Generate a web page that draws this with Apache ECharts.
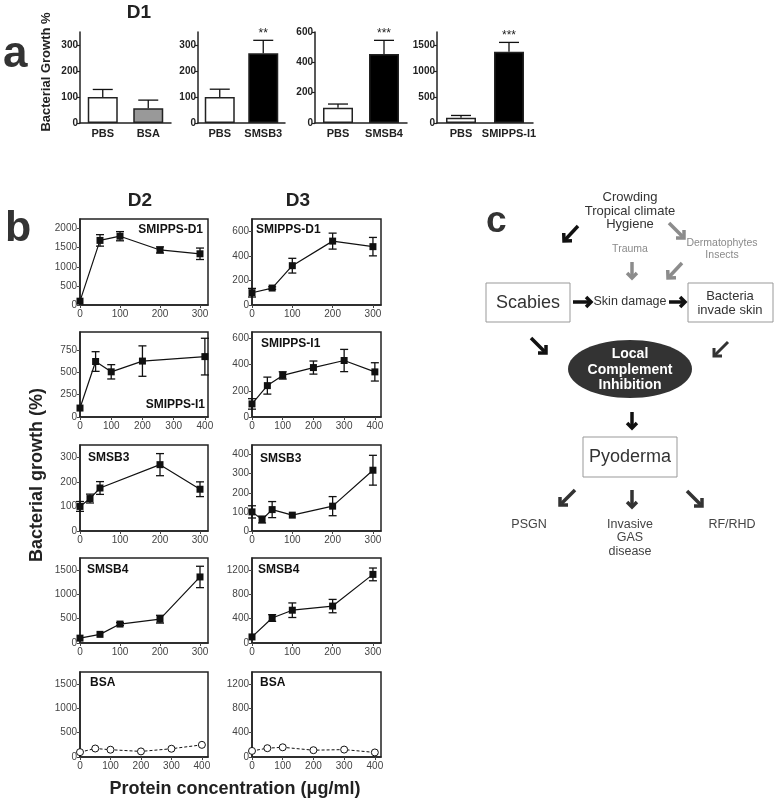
<!DOCTYPE html>
<html><head><meta charset="utf-8">
<script src="https://cdn.jsdelivr.net/npm/echarts@6/dist/echarts.min.js"></script>
<style>html,body{margin:0;padding:0;background:#fff}#c{width:780px;height:804px}</style>
</head><body><div id="c"></div>
<script>
// ---------------- DATA: panel a (D1 bar charts) ----------------
const a1Cats = ['PBS', 'BSA'];       const a1Vals = [100, 57];   const a1Err = [29, 31];   const a1Sig = ['', ''];
const a2Cats = ['PBS', 'SMSB3'];     const a2Vals = [100, 268];  const a2Err = [30, 50];   const a2Sig = ['', '**'];
const a3Cats = ['PBS', 'SMSB4'];     const a3Vals = [100, 455];  const a3Err = [25, 90];   const a3Sig = ['', '***'];
const a4Cats = ['PBS', 'SMIPPS-I1']; const a4Vals = [100, 1370]; const a4Err = [45, 180];  const a4Sig = ['', '***'];
const a1Ticks = [0, 100, 200, 300];
const a2Ticks = [0, 100, 200, 300];
const a3Ticks = [0, 200, 400, 600];
const a4Ticks = [0, 500, 1000, 1500];

// ---------------- DATA: panel b (dose response) ----------------
const xD2SmippsD1 = [0, 50, 100, 200, 300];
const yD2SmippsD1 = [100, 1690, 1800, 1440, 1340];
const eD2SmippsD1 = [0, 150, 120, 80, 150];
const xD3SmippsD1 = [0, 50, 100, 200, 300];
const yD3SmippsD1 = [100, 138, 320, 520, 475];
const eD3SmippsD1 = [35, 10, 60, 65, 75];

const xD2SmippsI1 = [0, 50, 100, 200, 400];
const yD2SmippsI1 = [100, 620, 505, 625, 675];
const eD2SmippsI1 = [0, 110, 80, 170, 205];
const xD3SmippsI1 = [0, 50, 100, 200, 300, 400];
const yD3SmippsI1 = [100, 240, 318, 378, 432, 345];
const eD3SmippsI1 = [40, 65, 28, 50, 85, 70];

const xD2Smsb3 = [0, 25, 50, 200, 300];
const yD2Smsb3 = [100, 132, 175, 270, 170];
const eD2Smsb3 = [20, 18, 26, 45, 30];
const xD3Smsb3 = [0, 25, 50, 100, 200, 300];
const yD3Smsb3 = [100, 60, 112, 83, 130, 318];
const eD3Smsb3 = [32, 18, 42, 0, 50, 78];

const xD2Smsb4 = [0, 50, 100, 200, 300];
const yD2Smsb4 = [100, 178, 390, 490, 1360];
const eD2Smsb4 = [0, 0, 30, 80, 220];
const xD3Smsb4 = [0, 50, 100, 200, 300];
const yD3Smsb4 = [100, 412, 540, 608, 1130];
const eD3Smsb4 = [0, 55, 120, 110, 105];

const xD2Bsa = [0, 50, 100, 200, 300, 400];
const yD2Bsa = [100, 175, 150, 115, 170, 250];
const xD3Bsa = [0, 50, 100, 200, 300, 400];
const yD3Bsa = [100, 145, 160, 112, 122, 75];

const bNames = ['SMIPPS-D1', 'SMIPPS-D1', 'SMIPPS-I1', 'SMIPPS-I1', 'SMSB3', 'SMSB3', 'SMSB4', 'SMSB4', 'BSA', 'BSA'];
const bYTicks = [[0,500,1000,1500,2000],[0,200,400,600],[0,250,500,750],[0,200,400,600],[0,100,200,300],[0,100,200,300,400],[0,500,1000,1500],[0,400,800,1200],[0,500,1000,1500],[0,400,800,1200]];
const bXTicks = [[0,100,200,300],[0,100,200,300],[0,100,200,300,400],[0,100,200,300,400],[0,100,200,300],[0,100,200,300],[0,100,200,300],[0,100,200,300],[0,100,200,300,400],[0,100,200,300,400]];

// ---------------- helpers ----------------
const FONT = '"Liberation Sans", Arial, sans-serif';
const DARK = '#222';
const plain = v => String(v);

function errRender(capW, upperOnly, sig) {
  return function (params, api) {
    const x = api.value(0), y = api.value(1), e = api.value(2);
    const children = [];
    const c = api.coord([x, y]);
    if (e > 0) {
      const top = api.coord([x, y + e]);
      const bot = upperOnly ? c : api.coord([x, y - e]);
      const st = { stroke: '#111', lineWidth: 1.3 };
      children.push({ type: 'line', shape: { x1: c[0], y1: bot[1], x2: c[0], y2: top[1] }, style: st });
      children.push({ type: 'line', shape: { x1: c[0] - capW / 2, y1: top[1], x2: c[0] + capW / 2, y2: top[1] }, style: st });
      if (!upperOnly) children.push({ type: 'line', shape: { x1: c[0] - capW / 2, y1: bot[1], x2: c[0] + capW / 2, y2: bot[1] }, style: st });
      if (sig && sig[params.dataIndex]) {
        children.push({ type: 'text', style: { text: sig[params.dataIndex], x: c[0], y: top[1] - 1, align: 'center', verticalAlign: 'bottom', textAlign: 'center', textVerticalAlign: 'bottom', font: '12px ' + FONT, fill: '#222' } });
      }
    }
    return { type: 'group', children };
  };
}

const grids = [], xAxes = [], yAxes = [], series = [];

// panel a
const barPanels = [
  { cats: a1Cats, vals: a1Vals, err: a1Err, sig: a1Sig, ticks: a1Ticks, max: 350, fills: ['#fff', '#999'], g: { left: 80, top: 32, width: 91, height: 91 } },
  { cats: a2Cats, vals: a2Vals, err: a2Err, sig: a2Sig, ticks: a2Ticks, max: 350, fills: ['#fff', '#000'], g: { left: 198, top: 32, width: 87, height: 91 } },
  { cats: a3Cats, vals: a3Vals, err: a3Err, sig: a3Sig, ticks: a3Ticks, max: 600, fills: ['#fff', '#000'], g: { left: 315, top: 32, width: 92, height: 91 } },
  { cats: a4Cats, vals: a4Vals, err: a4Err, sig: a4Sig, ticks: a4Ticks, max: 1750, fills: ['#fff', '#000'], g: { left: 437, top: 32, width: 96, height: 91 } }
];
barPanels.forEach(p => {
  const i = grids.length;
  grids.push(Object.assign({ containLabel: false }, p.g));
  xAxes.push({ type: 'category', gridIndex: i, data: p.cats,
    axisTick: { show: false }, axisLine: { show: true, lineStyle: { color: DARK, width: 1.5 } },
    axisLabel: { interval: 0, fontWeight: 'bold', fontSize: 11, color: '#222', margin: 5, fontFamily: FONT } });
  yAxes.push({ type: 'value', gridIndex: i, min: 0, max: p.max, splitLine: { show: false },
    axisLine: { show: true, lineStyle: { color: DARK, width: 1.5 } },
    axisTick: { show: true, length: 3, customValues: p.ticks, lineStyle: { color: DARK, width: 1.2 } },
    axisLabel: { customValues: p.ticks, formatter: plain, fontWeight: 'bold', fontSize: 10, color: '#222', margin: 2, fontFamily: FONT } });
  series.push({ type: 'bar', xAxisIndex: i, yAxisIndex: i, barWidth: 30,
    data: p.vals.map((v, j) => ({ value: v, itemStyle: { color: p.fills[j] } })),
    itemStyle: { borderColor: DARK, borderWidth: 1.5 }, z: 2 });
  series.push({ type: 'custom', xAxisIndex: i, yAxisIndex: i, z: 3,
    data: p.vals.map((v, j) => [j, v, p.err[j]]), encode: { x: 0, y: 1 },
    renderItem: errRender(20, true, p.sig) });
});

// panel b
const lineSets = [
  { x: xD2SmippsD1, y: yD2SmippsD1, e: eD2SmippsD1 },
  { x: xD3SmippsD1, y: yD3SmippsD1, e: eD3SmippsD1 },
  { x: xD2SmippsI1, y: yD2SmippsI1, e: eD2SmippsI1 },
  { x: xD3SmippsI1, y: yD3SmippsI1, e: eD3SmippsI1 },
  { x: xD2Smsb3, y: yD2Smsb3, e: eD2Smsb3 },
  { x: xD3Smsb3, y: yD3Smsb3, e: eD3Smsb3 },
  { x: xD2Smsb4, y: yD2Smsb4, e: eD2Smsb4 },
  { x: xD3Smsb4, y: yD3Smsb4, e: eD3Smsb4 },
  { x: xD2Bsa, y: yD2Bsa, e: null, open: true },
  { x: xD3Bsa, y: yD3Bsa, e: null, open: true }
];
const colLeft = [80, 252], colWidth = [128, 129];
const rowTop = [219, 332, 445, 558, 672], rowH = [86, 85, 86, 85, 85];
const xMax = [320, 320, 410, 420, 320, 320, 320, 320, 420, 420];
const yMax = [2250, 700, 950, 650, 350, 450, 1750, 1400, 1750, 1400];

lineSets.forEach((s, k) => {
  const i = grids.length;
  const col = k % 2, row = Math.floor(k / 2);
  grids.push({ left: colLeft[col], top: rowTop[row], width: colWidth[col], height: rowH[row], show: true, borderColor: DARK, borderWidth: 1.5, backgroundColor: 'rgba(0,0,0,0)' });
  const axisCommon = {
    splitLine: { show: false },
    axisLine: { show: true, onZero: false, lineStyle: { color: DARK, width: 1.5 } },
    axisTick: { show: true, length: 3, lineStyle: { color: '#444', width: 1 } },
    axisLabel: { fontSize: 10, color: '#444', fontFamily: FONT, formatter: plain }
  };
  xAxes.push(echarts.util.merge({ type: 'value', gridIndex: i, min: 0, max: xMax[k],
    axisTick: { customValues: bXTicks[k] }, axisLabel: { customValues: bXTicks[k], margin: 4 } }, axisCommon));
  yAxes.push(echarts.util.merge({ type: 'value', gridIndex: i, min: 0, max: yMax[k],
    axisTick: { customValues: bYTicks[k] }, axisLabel: { customValues: bYTicks[k], margin: 3 } }, axisCommon));
  const pts = s.x.map((x, j) => [x, s.y[j]]);
  if (s.open) {
    series.push({ type: 'line', xAxisIndex: i, yAxisIndex: i, data: pts, symbol: 'circle', symbolSize: 7, showSymbol: true,
      itemStyle: { color: '#fff', borderColor: '#111', borderWidth: 1 }, lineStyle: { color: '#111', width: 1, type: [3, 2] }, z: 3 });
  } else {
    series.push({ type: 'custom', xAxisIndex: i, yAxisIndex: i, z: 2,
      data: s.x.map((x, j) => [x, s.y[j], s.e[j]]), encode: { x: 0, y: 1 },
      renderItem: errRender(8, false, null) });
    series.push({ type: 'line', xAxisIndex: i, yAxisIndex: i, data: pts, symbol: 'rect', symbolSize: 7, showSymbol: true,
      itemStyle: { color: '#111' }, lineStyle: { color: '#111', width: 1.2 }, z: 3 });
  }
});

// ---------------- graphic: labels + panel c ----------------
function T(text, x, y, size, opts) {
  opts = opts || {};
  return { type: 'text', x: x, y: y, rotation: opts.rot || 0, z: 10,
    style: { text: text, x: 0, y: 0, font: (opts.bold ? 'bold ' : '') + size + 'px ' + FONT, fill: opts.color || '#222',
      align: opts.align || 'center', textAlign: opts.align || 'center',
      verticalAlign: opts.va || 'middle', textVerticalAlign: opts.va || 'middle' } };
}
function arrow(x1, y1, x2, y2, color, w, h) {
  const dx = x2 - x1, dy = y2 - y1, L = Math.hypot(dx, dy), ux = dx / L, uy = dy / L;
  const bx = -ux, by = -uy, c = Math.SQRT1_2;
  const p1 = [x2 + h * (bx * c - by * c), y2 + h * (bx * c + by * c)];
  const p2 = [x2 + h * (bx * c + by * c), y2 + h * (-bx * c + by * c)];
  return [
    { type: 'line', z: 10, shape: { x1: x1, y1: y1, x2: x2 - ux * w * 0.6, y2: y2 - uy * w * 0.6 }, style: { stroke: color, lineWidth: w } },
    { type: 'polyline', z: 10, shape: { points: [p1, [x2, y2], p2] }, style: { stroke: color, lineWidth: w, fill: null, lineJoin: 'miter' } }
  ];
}
function box(x, y, w, h) {
  return { type: 'rect', z: 9, shape: { x: x, y: y, width: w, height: h }, style: { fill: '#fff', stroke: '#999', lineWidth: 1 } };
}

const els = [];
// panel letters and titles
els.push(T('a', 3, 33, 44, { bold: true, align: 'left', va: 'alphabetic', color: '#333' }));
els.push(T('b', 5, 208, 43, { bold: true, align: 'left', va: 'alphabetic', color: '#333' }));
els.push(T('c', 486, 203, 37, { bold: true, align: 'left', va: 'alphabetic', color: '#333' }));
els.push(T('D1', 139, 13, 19, { bold: true }));
els.push(T('D2', 140, 201, 19, { bold: true }));
els.push(T('D3', 298, 201, 19, { bold: true }));
els.push(T('Bacterial Growth %', 46, 72, 13, { bold: true, rot: Math.PI / 2 }));
els.push(T('Bacterial growth (%)', 37, 475, 18, { bold: true, rot: Math.PI / 2 }));
els.push(T('Protein concentration (μg/ml)', 235, 789, 18, { bold: true }));
// series labels in panel b
const labelPos = [[203, 230, 'right'], [256, 230, 'left'], [205, 405, 'right'], [261, 344, 'left'], [88, 458, 'left'], [260, 459, 'left'], [87, 570, 'left'], [258, 570, 'left'], [90, 683, 'left'], [260, 683, 'left']];
bNames.forEach((n, k) => els.push(T(n, labelPos[k][0], labelPos[k][1], 12, { bold: true, align: labelPos[k][2], color: '#111' })));

// panel c diagram
els.push(T('Crowding', 630, 197, 13, { color: '#333' }));
els.push(T('Tropical climate', 630, 211, 13, { color: '#333' }));
els.push(T('Hygiene', 630, 224, 13, { color: '#333' }));
els.push(T('Trauma', 630, 249, 10.5, { color: '#8a8a8a' }));
els.push(T('Dermatophytes', 722, 243, 10.5, { color: '#8a8a8a' }));
els.push(T('Insects', 722, 255, 10.5, { color: '#8a8a8a' }));
els.push(box(486, 283, 84, 39));
els.push(T('Scabies', 528, 303, 18, { color: '#333' }));
els.push(T('Skin damage', 630, 302, 12.5, { color: '#333' }));
els.push(box(688, 283, 85, 39));
els.push(T('Bacteria', 730, 296, 13, { color: '#333' }));
els.push(T('invade skin', 730, 310, 13, { color: '#333' }));
els.push({ type: 'ellipse', z: 9, shape: { cx: 630, cy: 369, rx: 62, ry: 29 }, style: { fill: '#333' } });
els.push(T('Local', 630, 354, 14, { bold: true, color: '#fff' }));
els.push(T('Complement', 630, 370, 14, { bold: true, color: '#fff' }));
els.push(T('Inhibition', 630, 385, 14, { bold: true, color: '#fff' }));
els.push(box(583, 437, 94, 40));
els.push(T('Pyoderma', 630, 457, 18, { color: '#333' }));
els.push(T('PSGN', 529, 525, 12.5, { color: '#444' }));
els.push(T('Invasive', 630, 525, 12.5, { color: '#444' }));
els.push(T('GAS', 630, 538, 12.5, { color: '#444' }));
els.push(T('disease', 630, 552, 12.5, { color: '#444' }));
els.push(T('RF/RHD', 732, 525, 12.5, { color: '#444' }));
// arrows
const blk = '#111', gry = '#8c8c8c', drk = '#333';
[].concat(
  arrow(578, 226, 564, 241, blk, 3.5, 8),
  arrow(669, 223, 684, 238, gry, 3.5, 8),
  arrow(632, 262, 632, 278, gry, 3.5, 7),
  arrow(682, 263, 668, 278, gry, 3.5, 8),
  arrow(573, 302, 591, 302, blk, 3.5, 7),
  arrow(669, 302, 685, 302, blk, 3.5, 7),
  arrow(531, 338, 546, 353, blk, 3.5, 8),
  arrow(728, 342, 714, 356, drk, 3, 8),
  arrow(632, 412, 632, 428, blk, 3.5, 7),
  arrow(575, 490, 560, 505, drk, 3.5, 8),
  arrow(632, 490, 632, 507, drk, 3.5, 7),
  arrow(687, 491, 702, 506, drk, 3.5, 8)
).forEach(e => els.push(e));

const chart = echarts.init(document.getElementById('c'), null, { renderer: 'canvas' });
chart.setOption({
  animation: false,
  backgroundColor: '#fff',
  textStyle: { fontFamily: FONT },
  grid: grids, xAxis: xAxes, yAxis: yAxes, series: series,
  graphic: { elements: els }
});
</script></body></html>
